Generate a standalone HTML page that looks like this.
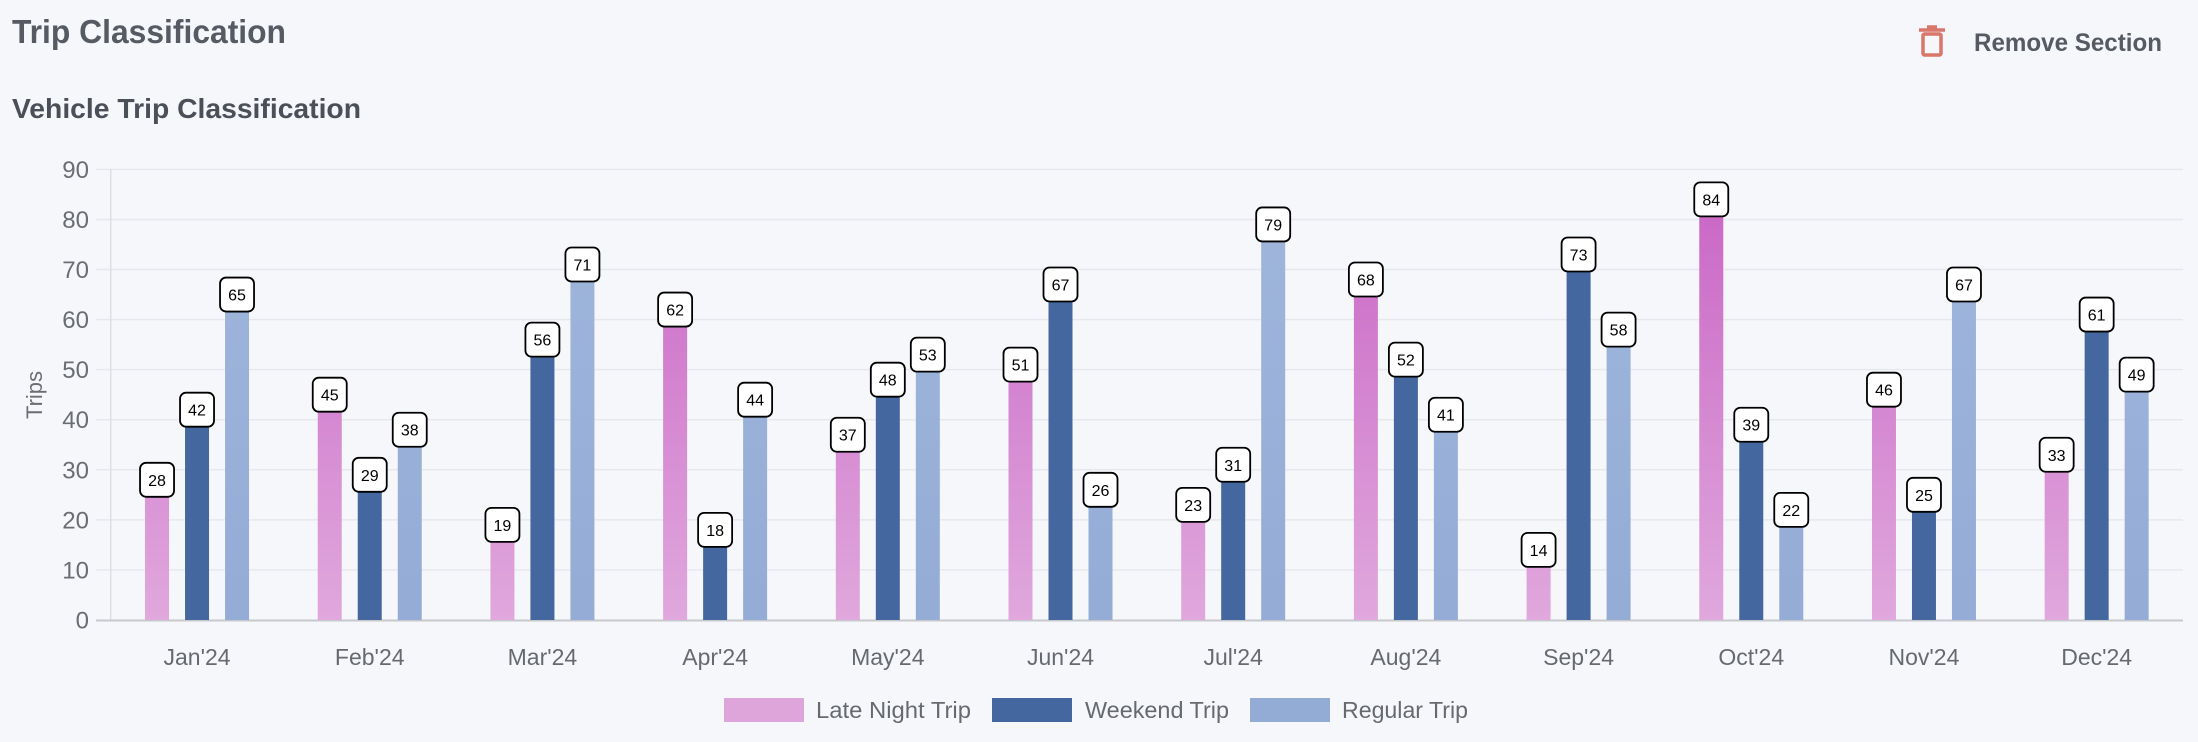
<!DOCTYPE html>
<html><head><meta charset="utf-8"><style>
html,body{margin:0;padding:0;background:#f6f7fb;}
svg{display:block}
</style></head><body>
<svg width="2198" height="742" xmlns="http://www.w3.org/2000/svg" font-family="'Liberation Sans', sans-serif">
<defs>
<linearGradient id="pk" gradientUnits="userSpaceOnUse" x1="0" y1="169" x2="0" y2="620">
<stop offset="0" stop-color="#c862c4"/><stop offset="1" stop-color="#e0a8dd"/></linearGradient>
<linearGradient id="lb" gradientUnits="userSpaceOnUse" x1="0" y1="169" x2="0" y2="620">
<stop offset="0" stop-color="#a0b6dc"/><stop offset="1" stop-color="#94acd6"/></linearGradient>
</defs>
<rect width="2198" height="742" fill="#f6f7fb"/>
<text x="12" y="43" font-size="33" font-weight="bold" fill="#555a63" textLength="274" lengthAdjust="spacingAndGlyphs">Trip Classification</text>
<text x="12" y="118" font-size="28" font-weight="bold" fill="#4a4f58" textLength="349" lengthAdjust="spacingAndGlyphs">Vehicle Trip Classification</text>
<g fill="none" stroke="#d9776b" stroke-width="3.5">
<rect x="1923" y="34" width="18" height="21" rx="1.5"/>
<line x1="1919" y1="30" x2="1945" y2="30"/>
<line x1="1927" y1="27" x2="1937" y2="27"/>
</g>
<text x="1974" y="51" font-size="25" font-weight="bold" fill="#555a63" textLength="188" lengthAdjust="spacingAndGlyphs">Remove Section</text>
<g id="grid"></g>
<text transform="translate(42,395) rotate(-90)" text-anchor="middle" font-size="22" fill="#6a6d73">Trips</text>
<g id="chart"></g>
<g font-size="23" fill="#666a70">
<rect x="724" y="698" width="80" height="24" fill="#dea5db"/>
<text x="816" y="718" fill="#666a70" textLength="155" lengthAdjust="spacingAndGlyphs">Late Night Trip</text>
<rect x="992" y="698" width="80" height="24" fill="#43679e"/>
<text x="1085" y="718" fill="#666a70" textLength="144" lengthAdjust="spacingAndGlyphs">Weekend Trip</text>
<rect x="1250" y="698" width="80" height="24" fill="#93acd6"/>
<text x="1342" y="718" fill="#666a70" textLength="126" lengthAdjust="spacingAndGlyphs">Regular Trip</text>
</g>
</svg>
<script>
var ns="http://www.w3.org/2000/svg";
function el(p,t,a,txt){var e=document.createElementNS(ns,t);for(var k in a)e.setAttribute(k,a[k]);if(txt!=null)e.textContent=txt;p.appendChild(e);return e;}
var g=document.getElementById('grid'),c=document.getElementById('chart');
var y0=620,u=5.007,L=110.7,R=2183,cw=(R-L)/12;
for(var i=0;i<=9;i++){var y=y0-i*10*u;
 if(i>0)el(g,'line',{x1:96,x2:R,y1:y,y2:y,stroke:'#e6e8ee','stroke-width':1.5});
 el(g,'text',{x:89,y:y+8.5,'text-anchor':'end','font-size':24,fill:'#6a6d73'},String(i*10));}
el(g,'line',{x1:L,x2:L,y1:169,y2:y0,stroke:'#dcdee4','stroke-width':1.5});
el(g,'line',{x1:96,x2:R,y1:y0+0.5,y2:y0+0.5,stroke:'#c6c8ce','stroke-width':2});
var d=[[28,45,19,62,37,51,23,68,14,84,46,33],[42,29,56,18,48,67,31,52,73,39,25,61],[65,38,71,44,53,26,79,41,58,22,67,49]];
var fills=['url(#pk)','#43679e','url(#lb)'];
var m=["Jan","Feb","Mar","Apr","May","Jun","Jul","Aug","Sep","Oct","Nov","Dec"];
var labels=[];
for(var k=0;k<12;k++){var cx=L+cw*(k+0.5);
 el(c,'text',{x:cx,y:665,'text-anchor':'middle','font-size':23,fill:'#666a70'},m[k]+"'24");
 for(var s=0;s<3;s++){var v=d[s][k],bx=cx+(s-1)*40,ty=y0-v*u;
  el(c,'rect',{x:bx-12,y:ty,width:24,height:y0-ty,fill:fills[s]});
  labels.push([bx,ty,v]);}}
labels.forEach(function(l){
 el(c,'rect',{x:l[0]-17,y:l[1]-17,width:34,height:34,rx:6,fill:'#fff',stroke:'#000','stroke-width':1.8});
 el(c,'text',{x:l[0],y:l[1]+6,'text-anchor':'middle','font-size':16,fill:'#000'},String(l[2]));});
</script>
</body></html>
